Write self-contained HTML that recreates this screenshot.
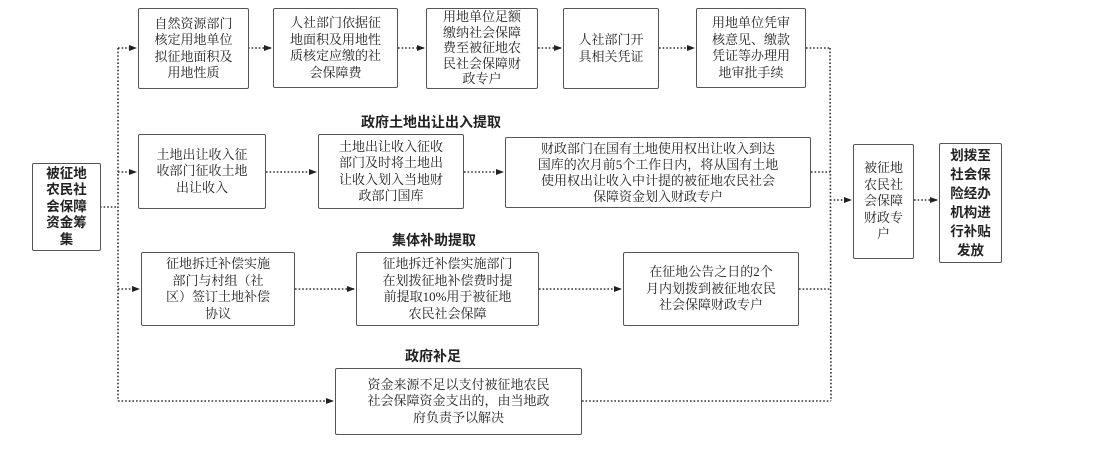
<!DOCTYPE html>
<html><head><meta charset="utf-8"><style>
body{margin:0;width:1118px;height:472px;background:#fff;position:relative;overflow:hidden;font-family:"Liberation Serif","Noto Serif CJK SC",serif;color:#222}
.b{position:absolute;border:1.3px solid #555;border-radius:2px;box-sizing:border-box;display:flex;align-items:center;justify-content:center;text-align:center;font-size:13px;line-height:16.5px;background:#fff}
.t{position:absolute;font-weight:bold;font-size:14px;font-family:"Liberation Sans","Noto Sans CJK SC",sans-serif;transform:translateX(-50%);white-space:nowrap}
.k{font-weight:bold;font-family:"Liberation Sans","Noto Sans CJK SC",sans-serif;font-size:13.5px;line-height:19px}
svg{position:absolute;left:0;top:0}
</style></head><body>
<svg width="1118" height="472">
<defs><marker id="a" markerWidth="8" markerHeight="6" refX="7" refY="3" orient="auto" markerUnits="userSpaceOnUse"><path d="M0,0 L8,3 L0,6z" fill="#222"/></marker></defs>
<g stroke="#333" stroke-width="1.6" stroke-dasharray="1.6 2" fill="none">
<line x1="100" y1="207" x2="118" y2="207"/>
<line x1="118" y1="48" x2="118" y2="401"/>
<line x1="118" y1="48" x2="136" y2="48" marker-end="url(#a)"/>
<line x1="248" y1="48" x2="271" y2="48" marker-end="url(#a)"/>
<line x1="398" y1="48" x2="424" y2="48" marker-end="url(#a)"/>
<line x1="538" y1="48" x2="561" y2="48" marker-end="url(#a)"/>
<line x1="659" y1="48" x2="694" y2="48" marker-end="url(#a)"/>
<line x1="806" y1="48" x2="830" y2="48"/>
<line x1="118" y1="172" x2="136" y2="172" marker-end="url(#a)"/>
<line x1="266" y1="172" x2="316" y2="172" marker-end="url(#a)"/>
<line x1="464" y1="172" x2="503" y2="172" marker-end="url(#a)"/>
<line x1="811" y1="172" x2="830" y2="172"/>
<line x1="118" y1="289" x2="139" y2="289" marker-end="url(#a)"/>
<line x1="295" y1="289" x2="354" y2="289" marker-end="url(#a)"/>
<line x1="539" y1="289" x2="621" y2="289" marker-end="url(#a)"/>
<line x1="799" y1="289" x2="831" y2="289"/>
<line x1="118" y1="401" x2="333" y2="401" marker-end="url(#a)"/>
<line x1="582" y1="401" x2="831" y2="401"/>
<line x1="830" y1="48" x2="831" y2="401"/>
<line x1="830" y1="200" x2="851" y2="200" marker-end="url(#a)"/>
<line x1="914" y1="200" x2="937" y2="200" marker-end="url(#a)"/>
</g></svg>
<div class="b k" style="left:32px;top:163px;width:69px;height:88px;line-height:16.5px">被征地<br>农民社<br>会保障<br>资金筹<br>集</div>
<div class="b" style="left:138px;top:8px;width:111px;height:81px">自然资源部门<br>核定用地单位<br>拟征地面积及<br>用地性质</div>
<div class="b" style="left:273px;top:8px;width:125px;height:80px">人社部门依据征<br>地面积及用地性<br>质核定应缴的社<br>会保障费</div>
<div class="b" style="left:426px;top:8px;width:112px;height:81px;align-items:flex-start;line-height:15.5px">用地单位足额<br>缴纳社会保障<br>费至被征地农<br>民社会保障财<br>政专户</div>
<div class="b" style="left:563px;top:8px;width:96px;height:81px">人社部门开<br>具相关凭证</div>
<div class="b" style="left:696px;top:8px;width:110px;height:80px">用地单位凭审<br>核意见、缴款<br>凭证等办理用<br>地审批手续</div>
<div class="t" style="left:431px;top:112px">政府土地出让出入提取</div>
<div class="b" style="left:138px;top:134px;width:128px;height:75px">土地出让收入征<br>收部门征收土地<br>出让收入</div>
<div class="b" style="left:318px;top:134px;width:146px;height:75px">土地出让收入征收<br>部门及时将土地出<br>让收入划入当地财<br>政部门国库</div>
<div class="b" style="left:505px;top:137px;width:306px;height:71px;line-height:16px">财政部门在国有土地使用权出让收入到达<br>国库的次月前5个工作日内，将从国有土地<br>使用权出让收入中计提的被征地农民社会<br>保障资金划入财政专户</div>
<div class="b" style="left:853px;top:144px;width:61px;height:115px">被征地<br>农民社<br>会保障<br>财政专<br>户</div>
<div class="b k" style="left:939px;top:143px;width:63px;height:120px">划拨至<br>社会保<br>险经办<br>机构进<br>行补贴<br>发放</div>
<div class="t" style="left:434px;top:230px">集体补助提取</div>
<div class="b" style="left:141px;top:252px;width:154px;height:74px">征地拆迁补偿实施<br>部门与村组（社<br>区）签订土地补偿<br>协议</div>
<div class="b" style="left:356px;top:252px;width:183px;height:74px">征地拆迁补偿实施部门<br>在划拨征地补偿费时提<br>前提取10%用于被征地<br>农民社会保障</div>
<div class="b" style="left:623px;top:252px;width:176px;height:74px">在征地公告之日的2个<br>月内划拨到被征地农民<br>社会保障财政专户</div>
<div class="t" style="left:433px;top:346px">政府补足</div>
<div class="b" style="left:335px;top:368px;width:247px;height:67px">资金来源不足以支付被征地农民<br>社会保障资金支出的，由当地政<br>府负责予以解决</div>
</body></html>
